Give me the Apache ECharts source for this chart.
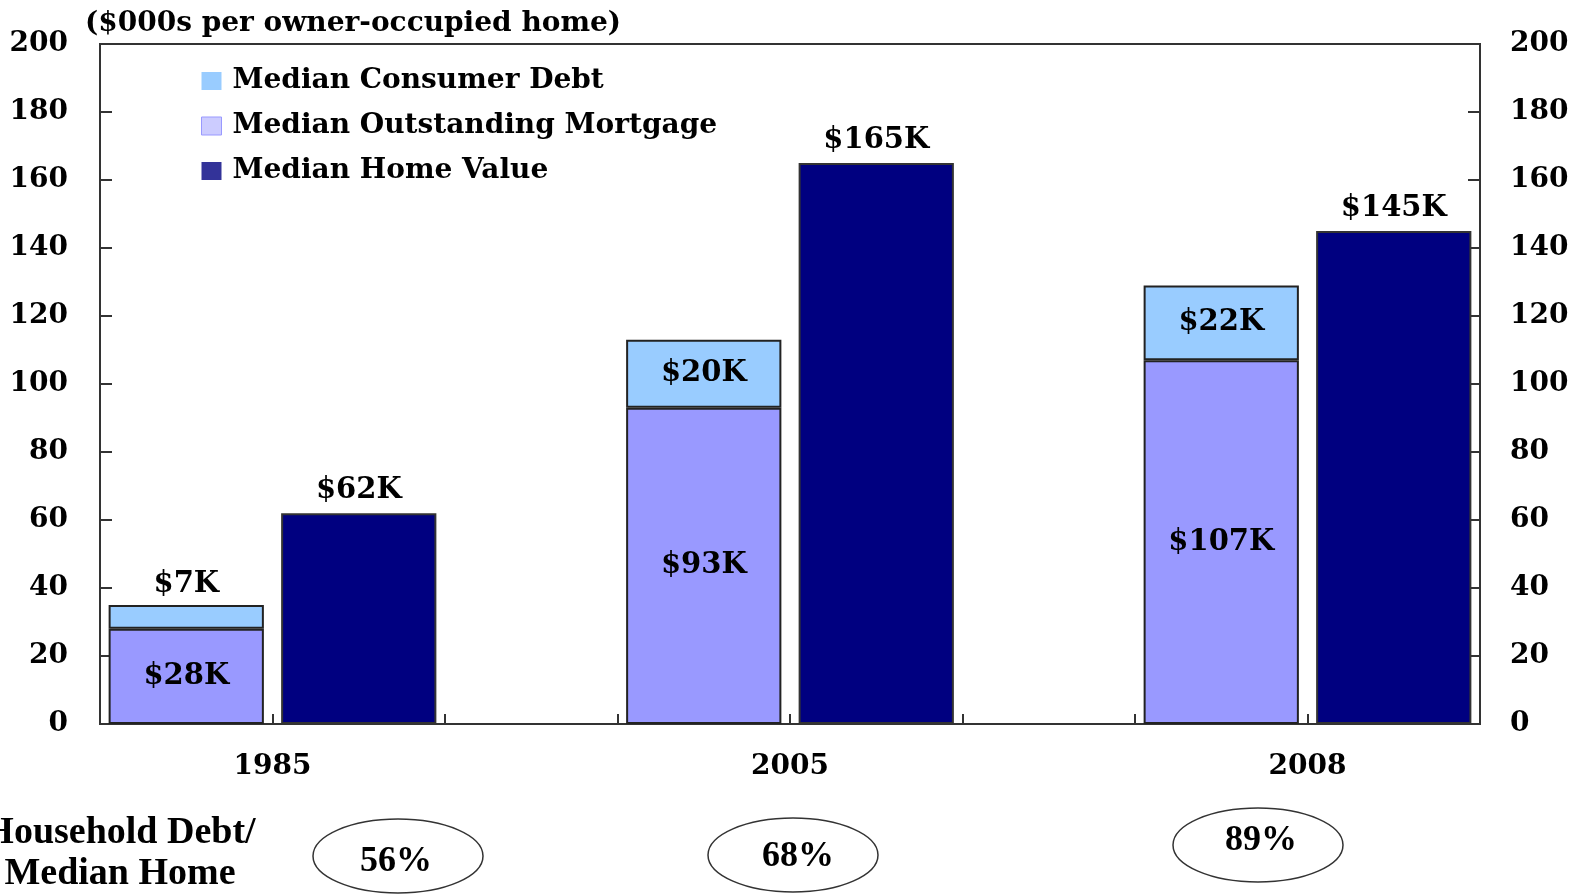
<!DOCTYPE html>
<html>
<head>
<meta charset="utf-8">
<title>Household debt vs median home value</title>
<script src="https://cdn.jsdelivr.net/npm/echarts@6/dist/echarts.min.js"></script>
<style>
html, body { margin: 0; padding: 0; background: #fff; }
#chart { width: 1574px; height: 895px; }
</style>
</head>
<body>
<div id="chart"></div>
<script>
// data ($000s per owner-occupied home)
var years = ['1985', '2005', '2008'];
var mortgage = [28, 93, 107];
var consumerDebt = [7, 20, 22];
var homeValue = [62, 165, 145];
var debtRatio = ['56%', '68%', '89%'];
var yMin = 0, yMax = 200, yStep = 20;

// each year takes 3 slots on the axis: debt stack, home value, gap
var slots = [], mortgageSlots = [], debtSlots = [], homeSlots = [], tickLabels = [''];
years.forEach(function (y, i) {
    slots.push(y + ' debt', y + ' home', y + ' gap');
    mortgageSlots.push(mortgage[i], '-', '-');
    debtSlots.push({ value: consumerDebt[i], label: { position: consumerDebt[i] < 10 ? 'top' : 'inside' } }, '-', '-');
    homeSlots.push('-', homeValue[i], '-');
    tickLabels.push(y, '', '');
});
slots.pop(); mortgageSlots.pop(); debtSlots.pop(); homeSlots.pop();

var serif = 'DejaVu Serif';
var times = 'Liberation Serif';
var axisColor = '#333';

function kLabel(p) { return '$' + p.value + 'K'; }

var labelStyle = { show: true, fontFamily: serif, fontWeight: 'bold', fontSize: 29, color: '#000', formatter: kLabel };

// ellipse annotations under the axis
var ovals = [
    { cx: 398, cy: 856, tx: 396, ty: 862 },
    { cx: 793, cy: 855, tx: 798, ty: 857 },
    { cx: 1258, cy: 845, tx: 1261, ty: 841 }
];
var graphics = [{
    type: 'text', x: 120, y: 813,
    style: { text: 'Household Debt/\nMedian Home', fontFamily: times, fontWeight: 'bold', fontSize: 38, lineHeight: 41, fill: '#000', align: 'center' }
}];
ovals.forEach(function (o, i) {
    graphics.push({
        type: 'ellipse', shape: { cx: o.cx, cy: o.cy, rx: 85, ry: 37 },
        style: { fill: 'none', stroke: '#333', lineWidth: 1.5 }
    });
    graphics.push({
        type: 'text', x: o.tx, y: o.ty,
        style: { text: debtRatio[i], fontFamily: times, fontWeight: 'bold', fontSize: 36, fill: '#000', align: 'center', verticalAlign: 'middle' }
    });
});

var myChart = echarts.init(document.getElementById('chart'));
var option = {
    animation: false,
    title: {
        text: '($000s per owner-occupied home)',
        left: 80, top: 5,
        textStyle: { fontFamily: serif, fontWeight: 'bold', fontSize: 28, color: '#000' }
    },
    legend: {
        orient: 'vertical',
        left: 196, top: 62,
        icon: 'rect',
        itemWidth: 20, itemHeight: 18, itemGap: 17,
        textStyle: { fontFamily: serif, fontWeight: 'bold', fontSize: 28, lineHeight: 28, color: '#000', padding: [0, 0, 0, 6] },
        data: [
            { name: 'Median Consumer Debt', itemStyle: { color: '#99CCFF', borderWidth: 0 } },
            { name: 'Median Outstanding Mortgage', itemStyle: { color: '#CCCCFF', borderColor: '#9999FF', borderWidth: 1 } },
            { name: 'Median Home Value', itemStyle: { color: '#333399', borderWidth: 0 } }
        ]
    },
    grid: { left: 100, right: 94, top: 44, bottom: 171, show: true, borderColor: axisColor, borderWidth: 2 },
    xAxis: [
        {
            type: 'category', data: slots,
            axisLine: { show: false }, axisTick: { show: false }, axisLabel: { show: false }
        },
        {
            type: 'value', position: 'bottom',
            min: 0, max: slots.length, interval: 1,
            axisLine: { onZero: false, lineStyle: { color: axisColor, width: 2 } },
            axisTick: { inside: true, length: 10, lineStyle: { color: axisColor, width: 2 } },
            splitLine: { show: false },
            axisLabel: {
                margin: 29, fontFamily: serif, fontWeight: 'bold', fontSize: 28, color: '#000',
                formatter: function (v) { return tickLabels[v] || ''; }
            }
        }
    ],
    yAxis: [
        {
            type: 'value', position: 'left', min: yMin, max: yMax, interval: yStep,
            axisLine: { show: true, lineStyle: { color: axisColor, width: 2 } },
            axisTick: { show: true, inside: true, length: 12, lineStyle: { color: axisColor, width: 2 } },
            splitLine: { show: false },
            axisLabel: { margin: 32, fontFamily: serif, fontWeight: 'bold', fontSize: 28, color: '#000' }
        },
        {
            type: 'value', position: 'right', min: yMin, max: yMax, interval: yStep,
            axisLine: { show: true, lineStyle: { color: axisColor, width: 2 } },
            axisTick: { show: true, inside: true, length: 12, lineStyle: { color: axisColor, width: 2 } },
            splitLine: { show: false },
            axisLabel: { margin: 30, fontFamily: serif, fontWeight: 'bold', fontSize: 28, color: '#000' }
        }
    ],
    series: [
        {
            name: 'Median Outstanding Mortgage', type: 'bar', stack: 'debt',
            barCategoryGap: '10%',
            itemStyle: { color: '#9999FF', borderColor: '#222', borderWidth: 2 },
            label: Object.assign({ position: 'inside' }, labelStyle),
            data: mortgageSlots
        },
        {
            name: 'Median Consumer Debt', type: 'bar', stack: 'debt',
            itemStyle: { color: '#99CCFF', borderColor: '#222', borderWidth: 2 },
            label: Object.assign({ position: 'inside', distance: 6 }, labelStyle),
            data: debtSlots
        },
        {
            name: 'Median Home Value', type: 'bar',
            barGap: '-100%', barCategoryGap: '10%',
            itemStyle: { color: '#000080', borderColor: '#333', borderWidth: 2 },
            label: Object.assign({ position: 'top', distance: 8 }, labelStyle),
            data: homeSlots
        }
    ],
    graphic: graphics
};
myChart.setOption(option);
</script>
</body>
</html>
